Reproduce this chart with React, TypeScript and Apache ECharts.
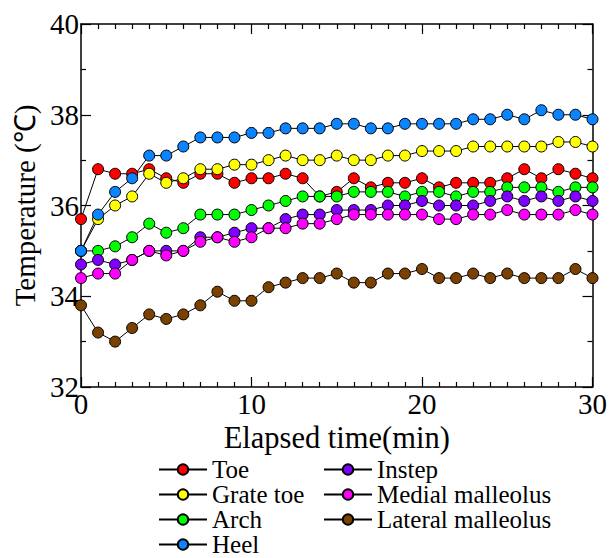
import React, { useEffect, useRef } from "react";
import * as echarts from "echarts";

const minutes = Array.from({ length: 31 }, (_, i) => i);

const toe = [35.7, 36.8, 36.7, 36.7, 36.8, 36.6, 36.5, 36.7, 36.7, 36.5, 36.6, 36.6, 36.7, 36.6, 36.2, 36.3, 36.6, 36.4, 36.5, 36.5, 36.6, 36.4, 36.5, 36.5, 36.5, 36.6, 36.8, 36.6, 36.8, 36.7, 36.6];
const grateToe = [35.0, 35.7, 36.0, 36.2, 36.7, 36.5, 36.6, 36.8, 36.8, 36.9, 36.9, 37.0, 37.1, 37.0, 37.0, 37.1, 37.0, 37.0, 37.1, 37.1, 37.2, 37.2, 37.2, 37.3, 37.3, 37.3, 37.3, 37.3, 37.4, 37.4, 37.3];
const arch = [35.0, 35.0, 35.1, 35.3, 35.6, 35.4, 35.5, 35.8, 35.8, 35.8, 35.9, 36.0, 36.1, 36.2, 36.2, 36.2, 36.3, 36.3, 36.3, 36.2, 36.3, 36.3, 36.2, 36.3, 36.3, 36.4, 36.4, 36.4, 36.3, 36.4, 36.4];
const heel = [35.0, 35.8, 36.3, 36.6, 37.1, 37.1, 37.3, 37.5, 37.5, 37.5, 37.6, 37.6, 37.7, 37.7, 37.7, 37.8, 37.8, 37.7, 37.7, 37.8, 37.8, 37.8, 37.8, 37.9, 37.9, 38.0, 37.9, 38.1, 38.0, 38.0, 37.9];
const instep = [34.7, 34.8, 34.7, 34.8, 35.0, 35.0, 35.0, 35.3, 35.3, 35.4, 35.5, 35.5, 35.7, 35.8, 35.8, 35.9, 35.9, 35.9, 36.0, 36.0, 36.1, 36.0, 36.0, 36.0, 36.1, 36.2, 36.1, 36.2, 36.1, 36.2, 36.1];
const medialMalleolus = [34.4, 34.5, 34.5, 34.8, 35.0, 34.9, 35.0, 35.2, 35.3, 35.2, 35.3, 35.5, 35.5, 35.6, 35.6, 35.7, 35.8, 35.8, 35.8, 35.8, 35.8, 35.7, 35.7, 35.8, 35.8, 35.9, 35.8, 35.8, 35.8, 35.9, 35.8];
const lateralMalleolus = [33.8, 33.2, 33.0, 33.3, 33.6, 33.5, 33.6, 33.8, 34.1, 33.9, 33.9, 34.2, 34.3, 34.4, 34.4, 34.5, 34.3, 34.3, 34.5, 34.5, 34.6, 34.4, 34.4, 34.5, 34.4, 34.5, 34.4, 34.4, 34.4, 34.6, 34.4];

const seriesNames = ["Toe", "Grate toe", "Arch", "Heel", "Instep", "Medial malleolus", "Lateral malleolus"];
const seriesValues = [toe, grateToe, arch, heel, instep, medialMalleolus, lateralMalleolus];
const seriesColors = ["#ff0000", "#ffff00", "#00ff00", "#0a84ff", "#7f00ff", "#ff00ff", "#7a4100"];

const legendCol1 = ["Toe", "Grate toe", "Arch", "Heel"];
const legendCol2 = ["Instep", "Medial malleolus", "Lateral malleolus"];

const FONT = "Liberation Serif, Times New Roman, serif";

export default function App() {
  const ref = useRef<HTMLDivElement>(null);
  useEffect(() => {
    if (!ref.current) return;
    const chart = echarts.init(ref.current, undefined, { renderer: "svg" });
    const axisLine = { show: true, onZero: false, lineStyle: { color: "#000", width: 1.5 } };
    const axisTick = { show: true, inside: true, length: 10, lineStyle: { color: "#000", width: 1.2 } };
    const minorTick = { show: true, length: 5, lineStyle: { color: "#000", width: 1.2 } };
    const legendBase = {
      orient: "vertical" as const,
      top: 457,
      height: 120,
      padding: 0,
      itemGap: 0,
      itemWidth: 48,
      itemHeight: 13,
      selectedMode: false,
      textStyle: { fontFamily: FONT, fontSize: 25, lineHeight: 25, color: "#000" },
    };
    chart.setOption({
      animation: false,
      backgroundColor: "#fff",
      textStyle: { fontFamily: FONT },
      grid: { left: 81, right: 17, top: 24, bottom: 171, containLabel: false },
      legend: [
        { ...legendBase, left: 158, data: legendCol1 },
        { ...legendBase, left: 323, data: legendCol2 },
      ],
      xAxis: [
        {
          type: "value",
          min: 0,
          max: 30,
          interval: 10,
          position: "bottom",
          name: "Elapsed time(min)",
          nameLocation: "middle",
          nameGap: 32,
          nameTextStyle: { fontFamily: FONT, fontSize: 30.5, color: "#000" },
          axisLine,
          axisTick,
          minorTick: { ...minorTick, splitNumber: 10 },
          axisLabel: { fontFamily: FONT, fontSize: 29, color: "#000", margin: 2 },
          splitLine: { show: false },
        },
        {
          type: "value",
          min: 0,
          max: 30,
          interval: 10,
          position: "top",
          axisLine,
          axisTick,
          minorTick: { ...minorTick, splitNumber: 10 },
          axisLabel: { show: false },
          splitLine: { show: false },
        },
      ],
      yAxis: [
        {
          type: "value",
          min: 32,
          max: 40,
          interval: 2,
          position: "left",
          name: "Temperature (℃)",
          nameLocation: "middle",
          nameGap: 38,
          nameTextStyle: { fontFamily: FONT, fontSize: 29, color: "#000" },
          axisLine,
          axisTick,
          minorTick: { ...minorTick, splitNumber: 2 },
          axisLabel: { fontFamily: FONT, fontSize: 29, color: "#000", margin: 2 },
          splitLine: { show: false },
        },
        {
          type: "value",
          min: 32,
          max: 40,
          interval: 2,
          position: "right",
          axisLine,
          axisTick,
          minorTick: { ...minorTick, splitNumber: 2 },
          axisLabel: { show: false },
          splitLine: { show: false },
        },
      ],
      series: seriesNames.map((name, k) => ({
        name,
        type: "line",
        xAxisIndex: 0,
        yAxisIndex: 0,
        data: minutes.map((m, i) => [m, seriesValues[k][i]]),
        symbol: "circle",
        symbolSize: 11,
        itemStyle: { color: seriesColors[k], borderColor: "#000", borderWidth: 1 },
        lineStyle: { color: "#000", width: 1 },
        emphasis: { disabled: true },
      })),
    });
    return () => chart.dispose();
  }, []);
  return (
    <div
      ref={ref}
      style={{ position: "absolute", left: 0, top: 0, width: 610, height: 558, background: "#fff" }}
    />
  );
}
